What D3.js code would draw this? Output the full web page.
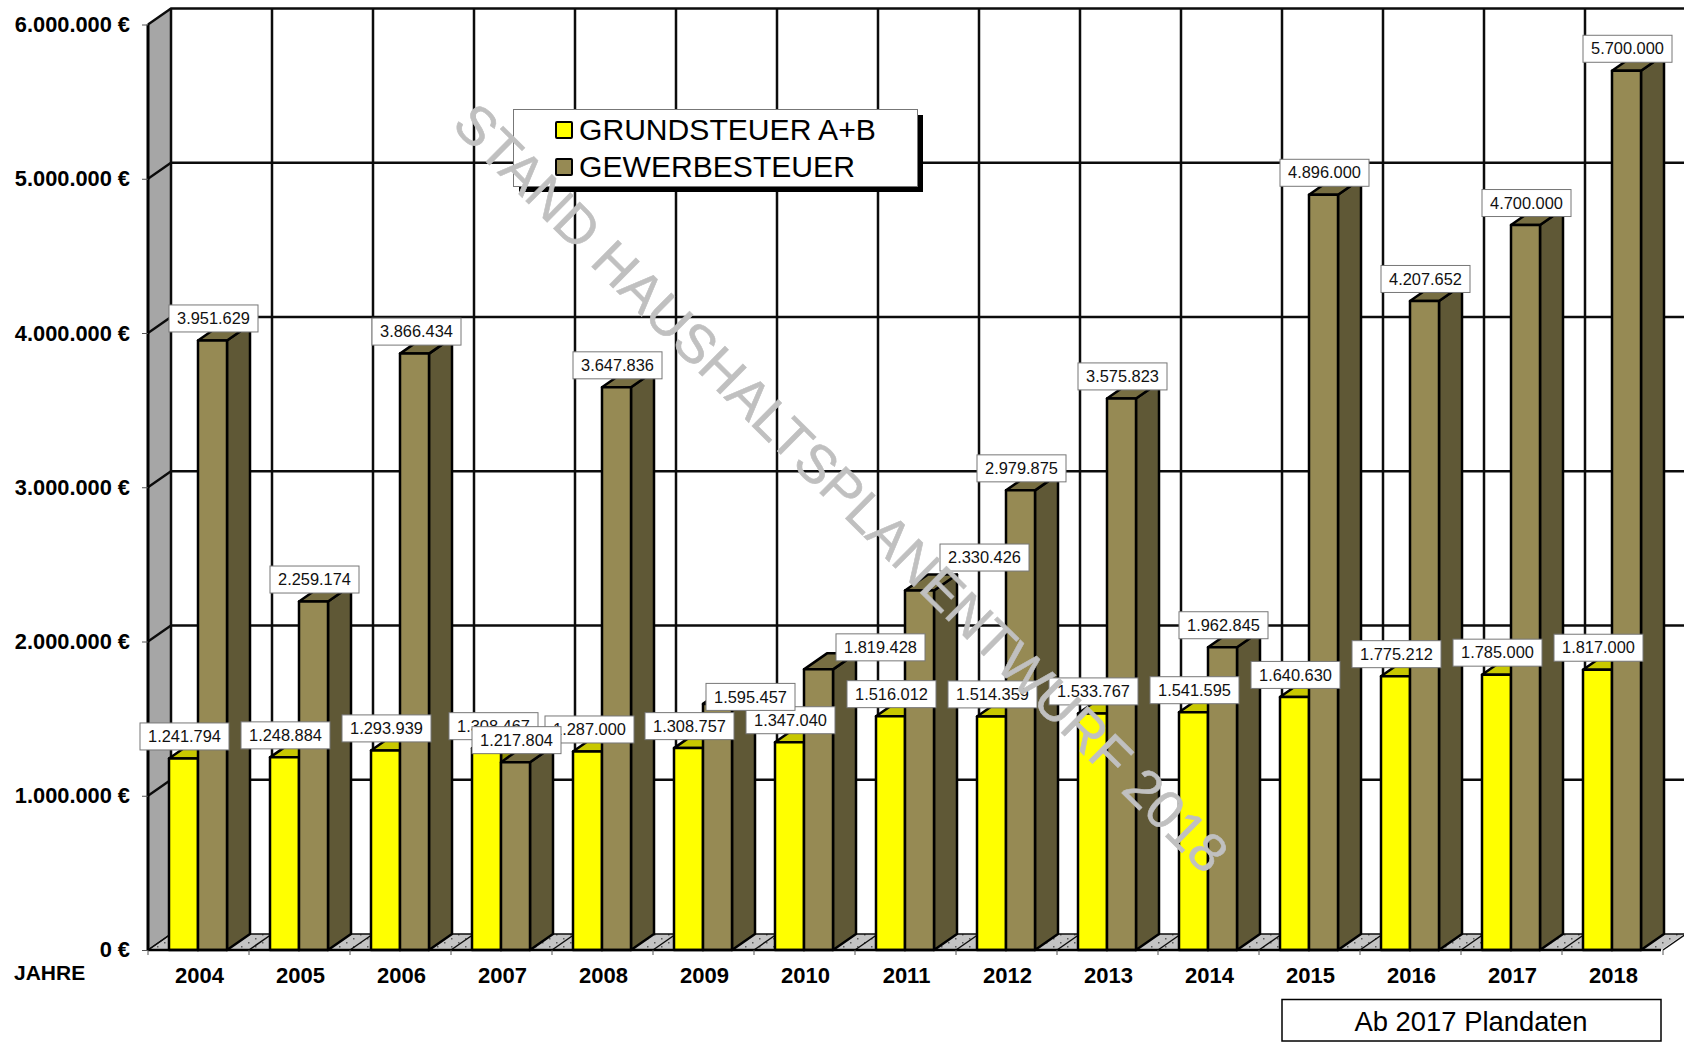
<!DOCTYPE html>
<html>
<head>
<meta charset="utf-8">
<title>Grundsteuer und Gewerbesteuer</title>
<script src="https://cdn.jsdelivr.net/npm/d3@7"></script>
<style>
    html, body { margin: 0; padding: 0; background: #fff; }
    svg { display: block; font-family: "Liberation Sans", Arial, sans-serif; }
</style>
</head>
<body>
<script>
// Data
const years = ['2004', '2005', '2006', '2007', '2008', '2009', '2010', '2011', '2012', '2013', '2014', '2015', '2016', '2017', '2018'];
const grundsteuer = [1241794, 1248884, 1293939, 1308467, 1287000, 1308757, 1347040, 1516012, 1514359, 1533767, 1541595, 1640630, 1775212, 1785000, 1817000];
const gewerbesteuer = [3951629, 2259174, 3866434, 1217804, 3647836, 1595457, 1819428, 2330426, 2979875, 3575823, 1962845, 4896000, 4207652, 4700000, 5700000];
const yTicks = [0, 1000000, 2000000, 3000000, 4000000, 5000000, 6000000];
const seriesNames = ['GRUNDSTEUER A+B', 'GEWERBESTEUER'];

// Labels that were moved by hand in the original, offset in px from the default place
const grundNudge = { 2007: [6, 0], 2008: [1, 0] };
const gewerbeNudge = { 2006: [1, 0], 2009: [32, 15], 2010: [61, 0], 2011: [64, -11] };

/**
 * Visual configs.
 */
const visWidth = 1684, visHeight = 1042;
const axisLeft = 148, bandStep = 101, depthX = 23, depthY = 16;
const yellow = { front: '#ffff00', top: '#c8c800', side: '#8f8f00' };
const brown = { front: '#968a54', top: '#776e42', side: '#5f5836' };

const de = d3.formatLocale({ decimal: ',', thousands: '.', grouping: [3], currency: ['', ' €'] });
const fmt = de.format(',d');

const x = d3.scaleBand().domain(years).range([axisLeft, axisLeft + bandStep * years.length]);
const xInner = d3.scaleBand().domain(seriesNames).range([21, 79]);
const y = d3.scaleLinear().domain([0, 6000000]).range([950, 24.5]);

const svg = d3.select('body').append('svg').attr('width', visWidth).attr('height', visHeight);

const floorDots = svg.append('defs').append('pattern')
    .attr('id', 'floor-dots').attr('patternUnits', 'userSpaceOnUse')
    .attr('width', 14).attr('height', 8);
floorDots.append('rect').attr('width', 14).attr('height', 8).attr('fill', '#c4c4c4');
floorDots.append('rect').attr('x', 3).attr('y', 2).attr('width', 1.5).attr('height', 1.5).attr('fill', '#5a5a5a');
floorDots.append('rect').attr('x', 10).attr('y', 6).attr('width', 1.5).attr('height', 1.5).attr('fill', '#5a5a5a');

const poly = pts => pts.map(p => p.join(',')).join(' ');

/**
 * Walls, floor and grid.
 */
const y0 = y(0), yMax = y(6000000);

svg.append('polygon')
    .attr('points', poly([[axisLeft, yMax], [axisLeft + depthX, yMax - depthY], [axisLeft + depthX, y0 - depthY], [axisLeft, y0]]))
    .attr('fill', '#a6a6a6');

svg.append('polygon')
    .attr('points', poly([[axisLeft, y0], [axisLeft + depthX, y0 - depthY], [visWidth, y0 - depthY], [visWidth - depthX, y0]]))
    .attr('fill', 'url(#floor-dots)');

const grid = svg.append('g').attr('class', 'grid').attr('stroke', '#0c0c0c').attr('fill', 'none');

grid.selectAll('.h').data(yTicks).enter().append('path')
    .attr('class', 'h')
    .attr('stroke-width', d => d === 0 ? 1.5 : 2.3)
    .attr('d', d => `M${axisLeft},${y(d)}L${axisLeft + depthX},${y(d) - depthY}H${visWidth}`);

grid.selectAll('.v').data(years).enter().append('line')
    .attr('class', 'v')
    .attr('stroke-width', 2.5)
    .attr('x1', d => x(d) + depthX).attr('x2', d => x(d) + depthX)
    .attr('y1', yMax - depthY).attr('y2', y0 - depthY);

grid.selectAll('.d').data(years.concat('end')).enter().append('line')
    .attr('class', 'd')
    .attr('stroke-width', 1.5)
    .attr('x1', (d, i) => axisLeft + i * x.step()).attr('y1', y0)
    .attr('x2', (d, i) => axisLeft + i * x.step() + depthX).attr('y2', y0 - depthY);

/**
 * Bars.
 */
function drawBar(selection, series, color, values) {
    const w = xInner.bandwidth();
    const left = d => x(d) + xInner(series);
    const top = d => y(values[years.indexOf(d)]);

    selection.append('polygon')
        .attr('points', d => poly([[left(d) + w, top(d)], [left(d) + w + depthX, top(d) - depthY], [left(d) + w + depthX, y0 - depthY], [left(d) + w, y0]]))
        .attr('fill', color.side);
    selection.append('polygon')
        .attr('points', d => poly([[left(d), top(d)], [left(d) + depthX, top(d) - depthY], [left(d) + w + depthX, top(d) - depthY], [left(d) + w, top(d)]]))
        .attr('fill', color.top);
    selection.append('rect')
        .attr('x', left).attr('y', top)
        .attr('width', w).attr('height', d => y0 - top(d))
        .attr('fill', color.front);
}

const bars = svg.append('g').attr('class', 'bars')
    .attr('stroke', '#000').attr('stroke-width', 2.5).attr('stroke-linejoin', 'round')
    .selectAll('.bar').data(years).enter().append('g').attr('class', 'bar');
drawBar(bars.append('g'), seriesNames[0], yellow, grundsteuer);
drawBar(bars.append('g'), seriesNames[1], brown, gewerbesteuer);

/**
 * Axes.
 */
const yAxis = d3.axisLeft(y).tickValues(yTicks).tickSize(6).tickPadding(12)
    .tickFormat(d => fmt(d) + ' €');
const yAxisG = svg.append('g').attr('transform', `translate(${axisLeft},0)`).call(yAxis);
yAxisG.select('.domain').attr('stroke', '#000').attr('stroke-width', 3).attr('d', `M0,${yMax}V${y0}`);
yAxisG.selectAll('.tick line').attr('stroke', '#555').attr('stroke-width', 1);
yAxisG.selectAll('text')
    .attr('font-family', '"Liberation Sans", Arial, sans-serif')
    .attr('font-size', 21.8).attr('font-weight', 'bold').attr('fill', '#000')
    .attr('dy', d => d === 0 ? 6 : 7);

const xAxis = d3.axisBottom(x).tickSize(0).tickPadding(18);
const xAxisG = svg.append('g').attr('transform', `translate(1,${y0})`).call(xAxis);
xAxisG.select('.domain').attr('stroke', '#000').attr('stroke-width', 2.5).attr('d', `M${axisLeft - 1},0H${visWidth - depthX - 1}`);
xAxisG.selectAll('text')
    .attr('font-family', '"Liberation Sans", Arial, sans-serif')
    .attr('font-size', 22).attr('font-weight', 'bold').attr('fill', '#000')
    .attr('y', 33).attr('dy', 0);

svg.append('g').selectAll('line').data(years.concat('end')).enter().append('line')
    .attr('stroke', '#555')
    .attr('x1', (d, i) => axisLeft + i * x.step()).attr('x2', (d, i) => axisLeft + i * x.step())
    .attr('y1', y0).attr('y2', y0 + 5);

svg.append('text').attr('x', 14).attr('y', 980)
    .attr('font-size', 21).attr('font-weight', 'bold').text('JAHRE');

/**
 * Value labels. All of the first series go first, the second one lies on top.
 */
function drawLabels(series, values, nudge) {
    const w = xInner.bandwidth();
    const item = svg.append('g').attr('class', 'labels').selectAll('g').data(years).enter().append('g')
        .attr('transform', (d, i) => {
            const n = nudge[d] || [0, 0];
            return `translate(${x(d) + xInner(series) + w / 2 + 1 + n[0]},${y(values[i]) - 22 + n[1]})`;
        });
    item.append('rect')
        .attr('x', -44.5).attr('y', -13.5).attr('width', 89).attr('height', 27)
        .attr('fill', '#fff').attr('stroke', '#777').attr('stroke-width', 1);
    item.append('text')
        .attr('text-anchor', 'middle').attr('y', 5.6)
        .attr('font-size', 16.4).attr('fill', '#111')
        .text((d, i) => fmt(values[i]));
}
drawLabels(seriesNames[0], grundsteuer, grundNudge);
drawLabels(seriesNames[1], gewerbesteuer, gewerbeNudge);

/**
 * Legend.
 */
const legend = svg.append('g').attr('class', 'legend');
legend.append('rect').attr('x', 519).attr('y', 115).attr('width', 404).attr('height', 77).attr('fill', '#000');
legend.append('rect').attr('x', 513.5).attr('y', 109.5).attr('width', 404).attr('height', 77)
    .attr('fill', '#fff').attr('stroke', '#777').attr('stroke-width', 1);
const legendItem = legend.selectAll('.item').data(seriesNames).enter().append('g')
    .attr('class', 'item')
    .attr('transform', (d, i) => `translate(555,${122 + i * 37})`);
legendItem.append('rect')
    .attr('x', 1).attr('width', 16).attr('height', 16).attr('rx', 1)
    .attr('fill', (d, i) => i === 0 ? yellow.front : brown.front)
    .attr('stroke', '#000').attr('stroke-width', 2);
legendItem.append('text').attr('x', 24).attr('y', 18)
    .attr('font-size', 30.1).attr('fill', '#000').text(d => d);

/**
 * Note below the axis.
 */
svg.append('rect').attr('x', 1282).attr('y', 999.5).attr('width', 379).attr('height', 41.5)
    .attr('fill', '#fff').attr('stroke', '#000').attr('stroke-width', 1.5);
svg.append('text').attr('x', 1471).attr('y', 1031).attr('text-anchor', 'middle')
    .attr('font-size', 27.4).attr('fill', '#000').text('Ab 2017 Plandaten');

/**
 * Watermark.
 */
svg.append('text')
    .attr('transform', 'translate(838,491) rotate(44.8)')
    .attr('text-anchor', 'middle').attr('dominant-baseline', 'middle')
    .attr('font-size', 54.2).attr('fill', '#c0c0c0')
    .attr('stroke', '#c0c0c0').attr('stroke-width', 0.6)
    .text('STAND HAUSHALTSPLANENTWURF 2018');
</script>
</body>
</html>
